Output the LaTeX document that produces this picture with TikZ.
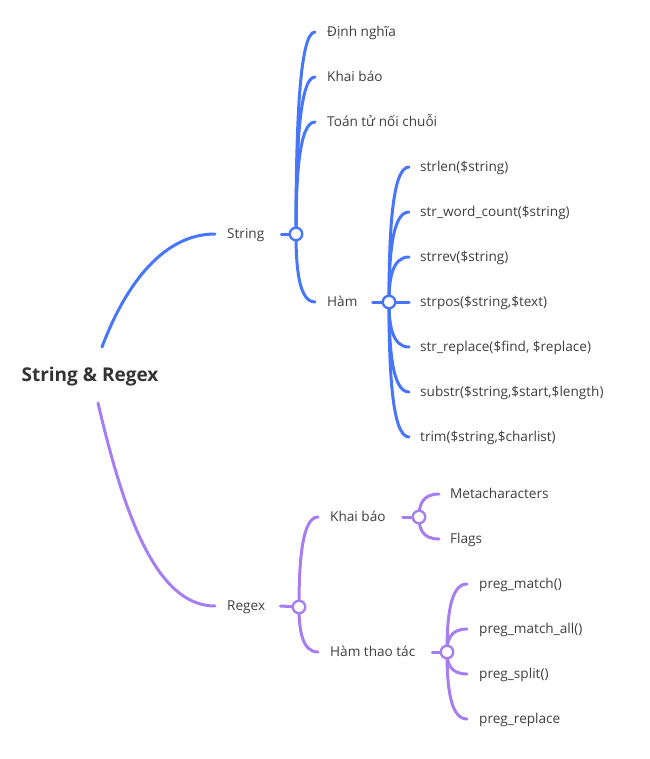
\documentclass[tikz,border=0pt]{standalone}
\usepackage{fontspec}
\setmainfont{Open Sans}
\usetikzlibrary{calc}
\definecolor{bl}{RGB}{72,118,250}
\definecolor{pu}{RGB}{166,126,240}
\definecolor{tx}{RGB}{62,62,62}
\definecolor{rt}{RGB}{51,51,51}
\pgfdeclarelayer{bg}
\pgfsetlayers{bg,main}
\tikzset{
 lbl/.style={anchor=west, inner sep=0pt, text=tx, font=\fontsize{13.6}{15}\selectfont, text height=9pt, text depth=0pt},
 hub/.style={circle, draw=#1, fill=white, line width=2.4pt, minimum size=12.5pt, inner sep=0pt},
 conn/.style={draw=#1, line width=3pt, line cap=round},
 branch/.style={to path={let \p1=(\tikztostart), \p2=(\tikztotarget) in .. controls (\x1,{0.5*\y1+0.5*\y2}) and ({\x1+3pt},\y2) .. (\tikztotarget)}},
}
\begin{document}
\begin{tikzpicture}[x=1pt,y=-1pt]
\useasboundingbox (0,0) rectangle (649,759);
% root
\node[inner sep=0pt, text=rt, font=\bfseries\fontsize{19}{21}\selectfont] (root) at (90,377) {String \& Regex};
% level 1
\node[lbl] (s) at (227,234) {String};
\node[lbl] (r) at (227,606) {Regex};
\node[hub=bl] (sh) at (296,234) {};
\node[hub=pu] (rh) at (299,607) {};
% String children
\node[lbl] (s1) at (327,32) {Định nghĩa};
\node[lbl] (s2) at (327,77) {Khai báo};
\node[lbl] (s3) at (327,122) {Toán tử nối chuỗi};
\node[lbl] (s4) at (327,302) {Hàm};
\node[hub=bl] (hh) at (389,302) {};
% Ham children
\node[lbl] (h1) at (420,167) {strlen(\$string)};
\node[lbl] (h2) at (420,212) {str\_word\_count(\$string)};
\node[lbl] (h3) at (420,257) {strrev(\$string)};
\node[lbl] (h4) at (420,302) {strpos(\$string,\$text)};
\node[lbl] (h5) at (420,347) {str\_replace(\$find, \$replace)};
\node[lbl] (h6) at (420,392) {substr(\$string,\$start,\$length)};
\node[lbl] (h7) at (420,437) {trim(\$string,\$charlist)};
% Regex children
\node[lbl] (r1) at (330,517) {Khai báo};
\node[lbl] (r2) at (330,652) {Hàm thao tác};
\node[hub=pu] (kh) at (419,517) {};
\node[hub=pu] (fh) at (447,652) {};
\node[lbl] (k1) at (450,494) {Metacharacters};
\node[lbl] (k2) at (450,539) {Flags};
\node[lbl] (f1) at (479,584) {preg\_match()};
\node[lbl] (f2) at (479,629) {preg\_match\_all()};
\node[lbl] (f3) at (479,674) {preg\_split()};
\node[lbl] (f4) at (479,719) {preg\_replace};
\begin{pgfonlayer}{bg}
% root connectors
\draw[conn=bl] ($(root.center)+(12,-30)$) .. controls +(21,-56) and +(-55,0) .. ([xshift=-12pt]s.west);
\draw[conn=pu] ($(root.center)+(8,26)$) .. controls +(25,107) and +(-60,0) .. ([xshift=-12pt]r.west);
% String
\draw[conn=bl] ([xshift=17pt]s.east) -- (sh.center);
\foreach \c in {s1,s2,s3,s4}{\draw[conn=bl] (sh.center) to[branch] ([xshift=-12pt]\c.west);}
\draw[conn=bl] ([xshift=15pt]s4.east) -- (hh.center);
\foreach \c in {h1,h2,h3,h4,h5,h6,h7}{\draw[conn=bl] (hh.center) to[branch] ([xshift=-11pt]\c.west);}
% Regex
\draw[conn=pu] ([xshift=15pt]r.east) -- (rh.center);
\foreach \c in {r1,r2}{\draw[conn=pu] (rh.center) to[branch] ([xshift=-12pt]\c.west);}
\draw[conn=pu] ([xshift=17pt]r1.east) -- (kh.center);
\foreach \c in {k1,k2}{\draw[conn=pu] (kh.center) to[branch] ([xshift=-11pt]\c.west);}
\draw[conn=pu] ([xshift=17pt]r2.east) -- (fh.center);
\foreach \c in {f1,f2,f3,f4}{\draw[conn=pu] (fh.center) to[branch] ([xshift=-12pt]\c.west);}
\end{pgfonlayer}
\end{tikzpicture}
\end{document}
